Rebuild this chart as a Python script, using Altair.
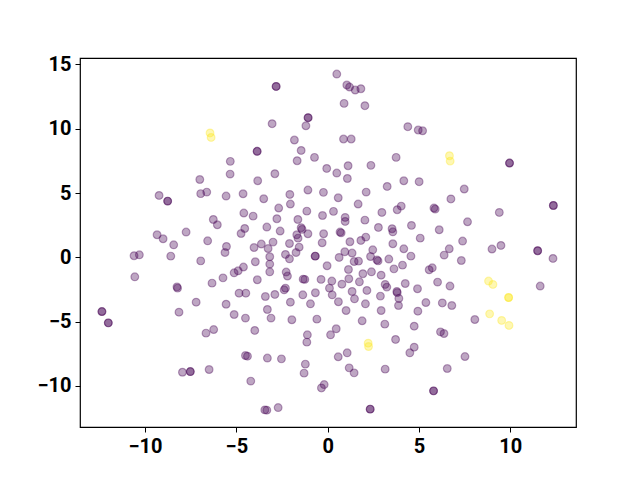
import altair as alt
import pandas as pd

# Purple (class 0) points
px = [0.50, 1.05, 1.20, 1.51, 1.82, -2.82, -2.82, 0.90, 2.04, -1.07, -1.07, -1.19, -3.04, -1.82, 0.87, 1.29,
      4.39, 4.96, 5.20, -1.45, -3.86, -3.86, -1.67, -0.72, -5.33, 3.75, -5.34, -2.89, -3.83, -0.05, 0.50,
      1.12, 2.37, 1.08, 4.17, 5.01, 9.96, 9.96, -7.00, -9.23, -8.76, -8.76, -6.95, -6.62, -5.56, -4.63,
      -3.50, -2.07, -1.08, -0.23, -2.04, -2.68, -1.14, -4.59, -4.08, -6.26, -6.04, -2.78, -1.63, -0.28,
      -4.54, -4.74, -3.33, -2.60, -1.45, -1.40, -1.69, -1.62, -1.08, -0.22, -0.30, -9.34, -9.01, -7.75,
      -8.43, -10.60, -10.31, -8.59, -6.95, -10.56, -8.25, -8.22, -7.20, -6.57, -5.54, -5.62, -4.03, -3.63,
      -2.99, -3.26, -2.09, -1.56, -1.73, -2.31, -2.09, -3.17, -3.17, -3.17, -0.68, -0.68, -0.03, -3.96,
      -4.61, -4.90, -5.12, -2.27, -2.20, -3.85, -5.73, -6.33, -1.34, -1.25, -0.36, 0.10, -4.85, -4.48,
      -3.41, -2.89, -2.31, -2.38, -2.04, -1.36, -0.67, -0.94, -5.56, 3.26, 2.11, 0.58, 1.67, 4.03, 3.81,
      5.82, 5.89, 6.75, 0.32, 2.97, 0.96, 0.96, 2.04, 4.59, 2.78, 3.53, 3.57, 0.68, 0.74, 6.11, 2.09,
      1.82, 1.22, 3.57, 5.07, 4.17, 6.66, 6.38, 0.94, 1.34, 2.47, 2.35, 0.63, 1.45, 1.69, 2.70, 2.76,
      3.35, 4.56, 4.10, 3.63, 1.14, 2.40, 2.93, 1.93, 5.56, 5.73, 0.23, 1.16, 1.74, 0.78, 3.15, 3.24,
      4.25, 3.79, 3.81, 4.92, 6.02, 6.70, 1.34, 2.15, 0.25, 1.47, 2.07, 2.89, 3.90, 5.38, 6.28, 0.59,
      7.48, 12.36, 12.36, 9.40, 7.66, 7.39, 9.00, 9.49, 11.50, 11.50, 12.34, 7.32, 11.64, 6.80, 8.06,
      7.52, 6.55, 1.01, 2.93, 3.88, 4.94, 1.89, 3.13, 4.74, 0.47, 0.16, 6.18, 6.37, 3.72, 4.74, 4.50,
      0.58, 1.07, 1.18, 1.45, 3.15, -0.34, -0.19, 5.80, 5.80, 2.33, 2.33, -5.12, -4.50, -3.30, -3.10,
      -1.96, -0.59, -3.99, -6.66, -6.24, -1.11, -1.14, -4.50, -4.39, -3.30, -2.53, -1.22, -1.29, -6.49,
      -4.21, -3.44, -3.33, -2.71, -12.36, -12.36, -12.01, -12.01, -8.14, -7.95, -7.52, -7.52]
py = [14.25, 13.40, 13.24, 13.01, 13.11, 13.29, 13.29, 11.97, 11.79, 10.86, 10.86, 10.23, 10.39, 9.12, 9.20, 9.20,
      10.16, 9.90, 9.84, 8.31, 8.24, 8.24, 7.51, 7.77, 7.46, 7.77, 6.47, 6.50, 5.95, 6.91, 6.55,
      7.12, 7.15, 6.13, 5.95, 5.88, 7.33, 7.33, 6.05, 4.81, 4.37, 4.37, 4.95, 5.07, 4.76, 4.94,
      4.55, 4.89, 5.23, 5.05, 4.14, 3.83, 3.59, 3.44, 3.20, 2.94, 2.53, 3.00, 2.94, 3.25,
      2.24, 1.85, 2.35, 2.04, 2.30, 2.17, 1.75, 1.49, 1.83, 1.83, 1.13, 1.75, 1.44, 1.96,
      0.97, 0.12, 0.19, 0.09, -0.28, -1.52, -2.30, -2.40, -3.49, 1.28, 0.84, 0.37, 0.76, 1.03,
      1.18, 0.68, 1.07, 0.79, 0.37, 0.22, -0.12, 0.04, -0.53, -1.13, 0.09, 0.09, -0.66, -0.35,
      -0.76, -1.05, -1.21, -1.15, -1.46, -1.75, -1.60, -2.01, -1.70, -1.72, -1.72, -2.40, -2.79, -2.79,
      -3.05, -2.89, -2.40, -2.53, -3.49, -2.92, -2.76, -3.62, -3.65, 5.51, 5.07, 4.63, 4.14, 3.98, 3.70,
      3.83, 3.75, 4.54, 3.57, 3.49, 3.10, 2.79, 2.89, 2.48, 2.32, 2.22, 1.98, 1.96, 1.90, 2.14, 1.57,
      1.31, 1.21, 1.05, 1.49, 0.66, 0.66, 0.17, 0.43, 0.33, 0.58, 0.06, -0.01, -0.33, -0.30, -0.20, -0.28,
      -0.14, 0.09, -0.61, -0.90, -0.95, -1.13, -1.39, -1.28, -0.97, -0.82, -1.85, -1.67, -1.91, -2.09, -2.11, -2.32,
      -2.04, -2.66, -2.75, -2.45, -1.93, -2.24, -2.66, -2.58, -2.92, -3.23, -3.62, -3.02, -3.20, -3.52, -3.55, -3.46,
      5.31, 4.03, 4.03, 3.49, 2.76, 1.26, 0.64, 0.92, 0.51, 0.51, -0.09, -0.25, -2.24, -3.75, -4.84,
      -7.72, -8.65, -4.14, -4.14, -3.75, -4.19, -4.94, -5.20, -5.36, -5.56, -6.03, -5.80, -5.93, -6.39, -6.99, -7.43,
      -7.74, -7.43, -8.60, -8.99, -8.70, -10.16, -9.90, -10.39, -10.39, -11.81, -11.81, -4.45, -4.73, -4.06, -4.73,
      -4.86, -4.81, -5.69, -5.90, -5.62, -6.03, -6.60, -7.64, -7.69, -7.84, -7.90, -8.31, -9.01, -8.73,
      -9.63, -11.87, -11.89, -11.69, -4.22, -4.22, -5.10, -5.10, -4.27, -8.94, -8.89, -8.89]

# Yellow (class 1) points
yx = [-6.44, -6.38, 6.67, 6.71, 8.81, 9.05, 9.91, 9.91, 8.87, 9.53, 9.93, 2.22, 2.24]
yy = [9.67, 9.32, 7.90, 7.48, -1.85, -2.11, -3.13, -3.13, -4.40, -4.91, -5.30, -6.68, -6.94]

x_ticks = [-10, -5, 0, 5, 10]
y_ticks = [-10, -5, 0, 5, 10, 15]

df = pd.DataFrame({
    "x": px + yx,
    "y": py + yy,
    "label": ["0"] * len(px) + ["1"] * len(yx),
})

axis_style = dict(
    labelFont="Roboto", labelFontWeight="bold", labelFontSize=20, labelColor="black",
    tickColor="black", tickSize=5, domain=False, grid=False, title=None, labelPadding=4,
)

chart = alt.Chart(df).mark_circle(
    size=60, fillOpacity=0.35, strokeOpacity=0.35, strokeWidth=1.2
).encode(
    x=alt.X("x:Q", scale=alt.Scale(domain=[-13.56, 13.6], nice=False, zero=False),
            axis=alt.Axis(values=x_ticks, **axis_style)),
    y=alt.Y("y:Q", scale=alt.Scale(domain=[-13.2, 15.5], nice=False, zero=False),
            axis=alt.Axis(values=y_ticks, **axis_style)),
    color=alt.Color("label:N", scale=alt.Scale(domain=["0", "1"], range=["#440154", "#fde725"]), legend=None),
    stroke=alt.Stroke("label:N", scale=alt.Scale(domain=["0", "1"], range=["#440154", "#fde725"]), legend=None),
).properties(
    width=496, height=369,
    autosize="none",
    padding={"left": 72, "top": 50, "right": 56, "bottom": 45},
).configure_view(stroke="black", strokeWidth=1.2)

chart.save("out.html", embed_options={"renderer": "svg", "actions": False})
